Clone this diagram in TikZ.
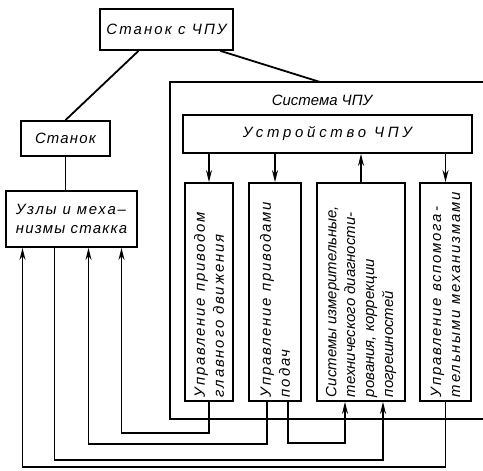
\documentclass[tikz,border=0pt]{standalone}
\usepackage{fontspec}
\setmainfont{Liberation Sans}[LetterSpace=8]
\usepackage{graphicx}
\usetikzlibrary{arrows.meta}

% rotated, left-aligned text for the tall boxes
\newcommand{\vtext}[2][12]{\rotatebox{90}{\parbox{210bp}{\raggedright\addfontfeature{LetterSpace=#1}#2}}}

\begin{document}
\begin{tikzpicture}[x=1bp,y=-1bp,line width=1.8bp,
    >={Stealth[length=12bp,width=6bp]},
    every node/.style={font=\fontsize{15}{19}\selectfont\itshape},
    blok/.style={draw,inner sep=0pt},
    vblok/.style={draw,inner sep=0pt,minimum height=218bp}]
  \useasboundingbox (0,0) rectangle (483,471);

  \node[blok,minimum width=133bp,minimum height=41bp] (cnc) at (166.5,29.5) {\addfontfeature{LetterSpace=14}Станок с ЧПУ};
  \node[blok,minimum width=89bp,minimum height=35bp] (stanok) at (65.5,138.5) {Станок};
  \node[blok,minimum width=131bp,minimum height=56bp,align=left] (uzly) at (71.5,219) {\addfontfeature{LetterSpace=12}Узлы и меха–\\низмы стакка};

  % frame of the control system, open to the right
  \coordinate (sysTop) at (320,82);
  \draw (483,82) -- (170,82) -- (170,419) -- (483,419);
  \node (sys) at (322,100) {\addfontfeature{LetterSpace=0}Система ЧПУ};
  \node[blok,minimum width=289bp,minimum height=38bp] (ustr) at (327.5,134) {\addfontfeature{LetterSpace=25}Устройство ЧПУ};

  \node[vblok,minimum width=48bp] (b1) at (209,292) {\vtext{Управление приводом\\главного движения}};
  \node[vblok,minimum width=52bp] (b2) at (275,292) {\vtext{Управление приводами\\подач}};
  \node[vblok,minimum width=88bp] (b3) at (361,292) {\vtext[0]{Системы измерительные,\\технического диагности-\\рования, коррекции\\погрешностей}};
  \node[vblok,minimum width=51bp] (b4) at (445.5,292) {\vtext{Управление вспомога-\\тельными механизмами}};

  \draw ([xshift=-28bp]cnc.south) -- (stanok.north);
  \draw ([xshift=54bp]cnc.south) -- (sysTop);
  \draw (stanok.south) -- (stanok.south |- uzly.north);

  \draw[->] (b1.north |- ustr.south) -- (b1.north);
  \draw[->] (b2.north |- ustr.south) -- (b2.north);
  \draw[->] (b3.north) -- (b3.north |- ustr.south);
  \draw[->] (b4.north |- ustr.south) -- (b4.north);

  % ports on the bottom of the machine units
  \coordinate (u1) at ([xshift=-49bp]uzly.south);
  \coordinate (u2) at ([xshift=-17bp]uzly.south);
  \coordinate (u3) at ([xshift=17bp]uzly.south);
  \coordinate (u4) at ([xshift=50bp]uzly.south);

  \draw[->] (b1.south) -- ++(0,31) -| (u4);
  \draw[->] ([xshift=-8bp]b2.south) -- ++(0,42) -| (u3);
  \draw[->] ([xshift=13bp]b2.south) -- ++(0,41) -| ([xshift=-16bp]b3.south);
  \draw[->] (u2) -- ++(0,212) -| ([xshift=22bp]b3.south);
  \draw[->] (b4.south) -- ++(0,65) -| (u1);
\end{tikzpicture}
\end{document}
